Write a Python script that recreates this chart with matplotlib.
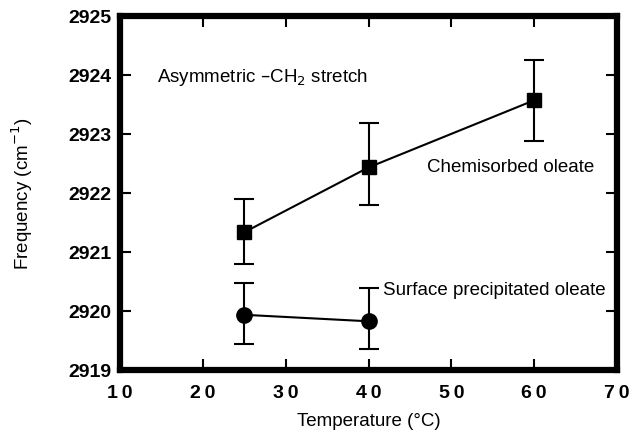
import numpy as np
import matplotlib
matplotlib.use("Agg")
import matplotlib.pyplot as plt

plt.rcParams['font.family'] = ['Liberation Sans', 'DejaVu Sans']

# chemisorbed oleate (squares)
chem_t = [25, 40, 60]
chem_f = [2921.33, 2922.43, 2923.57]
chem_lo = [2920.80, 2921.80, 2922.88]
chem_hi = [2921.90, 2923.18, 2924.26]

# surface precipitated oleate (circles)
surf_t = [25, 40]
surf_f = [2919.93, 2919.82]
surf_lo = [2919.44, 2919.35]
surf_hi = [2920.47, 2920.38]

xticks = [10, 20, 30, 40, 50, 60, 70]
yticks = [2919, 2920, 2921, 2922, 2923, 2924, 2925]

fig = plt.figure(figsize=(6.31, 4.35), dpi=100)
ax = fig.add_axes([0.19, 0.148, 0.788, 0.813])

def errs(f, lo, hi):
    f = np.array(f)
    return [f - np.array(lo), np.array(hi) - f]

ax.errorbar(chem_t, chem_f, yerr=errs(chem_f, chem_lo, chem_hi), fmt='s-', color='black',
            ms=10, lw=1.5, elinewidth=1.5, capsize=7, capthick=1.5)
ax.errorbar(surf_t, surf_f, yerr=errs(surf_f, surf_lo, surf_hi), fmt='o-', color='black',
            ms=11, lw=1.5, elinewidth=1.5, capsize=7, capthick=1.5)

ax.set_xlim(10, 70)
ax.set_ylim(2919, 2925)
ax.set_xticks(xticks)
ax.set_xticklabels(['\u2009'.join(str(v)) for v in xticks])
ax.set_yticks(yticks)
ax.tick_params(direction='in', length=8, width=1.5, top=True, right=True, labelsize=14)
ax.tick_params(axis='x', pad=10)
ax.tick_params(axis='y', pad=6)
for s in ax.spines.values():
    s.set_linewidth(4.5)
for lbl in ax.get_yticklabels() + ax.get_xticklabels():
    lbl.set_fontweight('bold')
ax.get_yaxis().get_major_formatter().set_useOffset(False)

ax.set_xlabel('Temperature (°C)', fontsize=13.5, labelpad=8)
ax.set_ylabel('Frequency (cm$^{-1}$)', fontsize=13.5, labelpad=24)

ax.text(14.5, 2923.98, 'Asymmetric –CH$_2$ stretch', fontsize=13.5, va='center')
ax.text(47.0, 2922.45, 'Chemisorbed oleate', fontsize=13.5, va='center')
ax.text(41.8, 2920.36, 'Surface precipitated oleate', fontsize=13.5, va='center')

fig.savefig('out.png', dpi=100)
